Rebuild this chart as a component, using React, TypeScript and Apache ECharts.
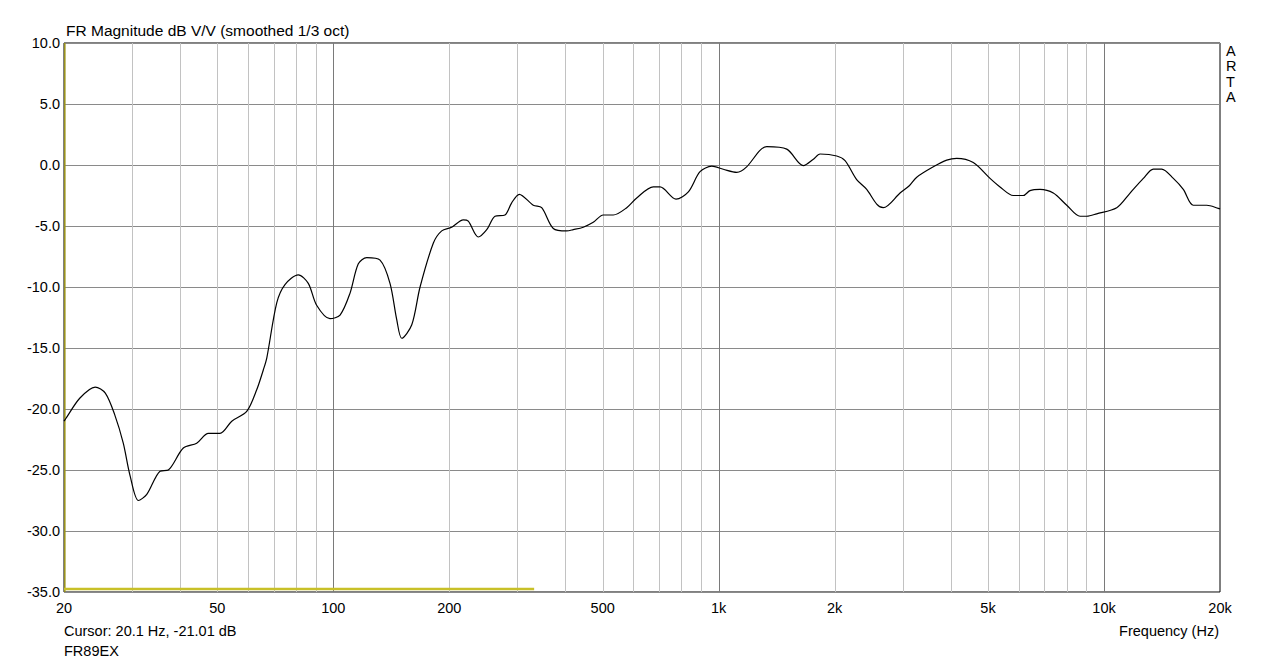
import React, { useEffect, useRef } from "react";
import * as echarts from "echarts";

const freqs = [20, 20.2, 22.0, 24.1, 25.6, 27.1, 28.5, 29.7, 31.2, 32.8, 35.5, 37.3, 40.8, 44.2, 47.4, 50.8, 54.5, 59.6, 63.3, 65.8, 67.2, 71.3, 74.9, 81.1, 86.1, 90.5, 98.0, 104.1, 110.5, 116.1, 122.1, 132.2, 140.3, 146.1, 150.5, 159.8, 167.9, 181.8, 191.1, 202.8, 217.4, 224.0, 237.8, 250.1, 262.8, 278.9, 290.3, 303.8, 330.3, 347.3, 372.2, 403.2, 419.4, 445.2, 472.6, 501.8, 532.7, 577.3, 612.8, 676.7, 704.3, 775.0, 834.3, 894.6, 959.5, 1028, 1114, 1182, 1280, 1333, 1502, 1659, 1761, 1833, 2025, 2128, 2281, 2422, 2571, 2674, 2956, 3124, 3266, 3606, 3907, 4147, 4579, 5061, 5372, 5816, 6174, 6425, 6822, 7387, 8005, 8666, 9020, 9573, 10790, 11685, 12649, 13427, 14118, 15133, 16062, 17052, 18474, 19800, 20000];

const magnitudes = [-21.0, -20.8, -19.1, -18.2, -18.7, -20.5, -22.8, -25.5, -27.5, -27.0, -25.1, -25.0, -23.2, -22.8, -22.0, -22.0, -21.0, -20.2, -18.4, -16.8, -15.8, -11.3, -9.8, -9.0, -9.7, -11.5, -12.6, -12.3, -10.5, -8.1, -7.6, -7.8, -9.7, -12.7, -14.2, -13.1, -10.0, -6.4, -5.4, -5.1, -4.5, -4.6, -5.9, -5.3, -4.2, -4.1, -3.1, -2.4, -3.3, -3.5, -5.2, -5.4, -5.3, -5.1, -4.7, -4.1, -4.1, -3.5, -2.7, -1.8, -1.8, -2.8, -2.2, -0.55, -0.1, -0.35, -0.6, -0.15, 1.2, 1.5, 1.3, -0.05, 0.47, 0.9, 0.74, 0.35, -1.2, -2.0, -3.2, -3.5, -2.3, -1.7, -1.0, -0.15, 0.4, 0.55, 0.2, -1.1, -1.8, -2.5, -2.5, -2.1, -2.0, -2.3, -3.3, -4.2, -4.2, -4.0, -3.5, -2.3, -1.1, -0.33, -0.33, -1.1, -2.0, -3.3, -3.3, -3.55, -3.6];

const gridFreqs = [30, 40, 50, 60, 70, 80, 90, 100, 200, 300, 400, 500, 600, 700, 800, 900, 1000, 2000, 3000, 4000, 5000, 6000, 7000, 8000, 9000, 10000];
const majorFreqs = [100, 1000, 10000];
const tickFreqs = [20, 50, 100, 200, 500, 1000, 2000, 5000, 10000, 20000];
const tickLabels = ["20", "50", "100", "200", "500", "1k", "2k", "5k", "10k", "20k"];
const refLine = [[20, -34.75], [332, -34.75]];

const FONT = "'Liberation Sans', Arial, sans-serif";

export default function App() {
  const ref = useRef<HTMLDivElement>(null);
  useEffect(() => {
    if (!ref.current) return;
    const chart = echarts.init(ref.current, null, { renderer: "svg" });
    chart.setOption({
      animation: false,
      backgroundColor: "#fff",
      grid: { left: 64, right: 64, top: 43, bottom: 72, show: true, borderColor: "#000", borderWidth: 1, backgroundColor: "transparent" },
      xAxis: {
        type: "log", logBase: 10, min: 20, max: 20000,
        axisLine: { show: false }, axisTick: { show: false }, axisLabel: { show: false }, splitLine: { show: false }
      },
      yAxis: {
        type: "value", min: -35, max: 10, interval: 5,
        axisLine: { show: false }, axisTick: { show: false },
        axisLabel: { formatter: (v: number) => v.toFixed(1), color: "#000", fontSize: 14.5, fontFamily: FONT, margin: 4 },
        splitLine: { show: true, lineStyle: { color: "#8a8a8a", width: 1 } }
      },
      graphic: [
        { type: "text", left: 66, top: 22, style: { text: "FR Magnitude dB V/V (smoothed 1/3 oct)", fill: "#000", font: `15.5px ${FONT}` } },
        { type: "text", left: 1226, top: 43, style: { text: "A\nR\nT\nA", fill: "#000", font: `14.5px ${FONT}`, lineHeight: 15.5 } },
        { type: "text", left: 64, top: 623, style: { text: "Cursor: 20.1 Hz, -21.01 dB", fill: "#000", font: `14.5px ${FONT}` } },
        { type: "text", left: 64, top: 643, style: { text: "FR89EX", fill: "#000", font: `14.5px ${FONT}` } },
        { type: "text", right: 65, top: 623, style: { text: "Frequency (Hz)", fill: "#000", font: `14.5px ${FONT}` } }
      ],
      series: [
        {
          type: "custom", name: "vgrid", silent: true, z: 1,
          data: gridFreqs.map((f) => [f, -35]),
          encode: { x: 0, y: 1 },
          renderItem: (params: any, api: any) => {
            const f = api.value(0);
            const p1 = api.coord([f, 10]);
            const p2 = api.coord([f, -35]);
            const major = majorFreqs.indexOf(f) >= 0;
            return {
              type: "line",
              shape: { x1: Math.round(p1[0]) + 0.5, y1: p1[1], x2: Math.round(p2[0]) + 0.5, y2: p2[1] },
              style: { stroke: major ? "#7a7a7a" : "#c2c2c2", lineWidth: 1 }
            };
          }
        },
        {
          type: "custom", name: "xlabels", silent: true, z: 1, clip: false,
          data: tickFreqs.map((f, i) => [f, -35, i]),
          encode: { x: 0, y: 1 },
          renderItem: (params: any, api: any) => {
            const f = api.value(0);
            const i = api.value(2);
            const p = api.coord([f, -35]);
            return {
              type: "text",
              x: p[0], y: p[1] + 16,
              style: { text: tickLabels[i], fill: "#000", font: `14.5px ${FONT}`, textAlign: "center", textVerticalAlign: "middle" }
            };
          }
        },
        {
          type: "line", name: "cursor", silent: true, z: 3, symbol: "none",
          data: [[20.1, -35], [20.1, 10]],
          lineStyle: { color: "#9c9418", width: 1.5 }
        },
        {
          type: "line", name: "ref", silent: true, z: 3, symbol: "none",
          data: refLine,
          lineStyle: { color: "#c8c028", width: 2.5 }
        },
        {
          type: "line", name: "FR89EX", z: 5, symbol: "none", smooth: 0.3,
          data: freqs.map((f, i) => [f, magnitudes[i]]),
          lineStyle: { color: "#000", width: 1.2 }
        }
      ]
    });
    return () => chart.dispose();
  }, []);
  return <div ref={ref} style={{ position: "fixed", left: 0, top: 0, width: 1284, height: 664, background: "#fff" }} />;
}
